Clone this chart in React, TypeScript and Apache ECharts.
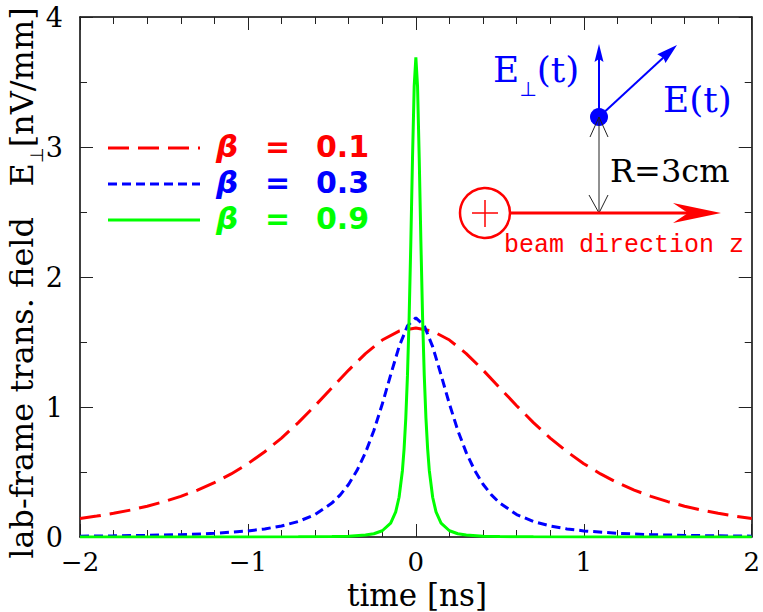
import React, { useEffect, useRef } from 'react';
import * as echarts from 'echarts';

// beta = 0.1 (red, long dashes)
const redT = [-2, -1.9, -1.8, -1.7, -1.6, -1.5, -1.4, -1.3, -1.2, -1.1, -1, -0.9, -0.8, -0.7, -0.6, -0.5, -0.4, -0.3, -0.2, -0.1, 0,
  0.1, 0.2, 0.3, 0.4, 0.5, 0.6, 0.7, 0.8, 0.9, 1, 1.1, 1.2, 1.3, 1.4, 1.5, 1.6, 1.7, 1.8, 1.9, 2];
const redV = [0.142, 0.161, 0.182, 0.207, 0.237, 0.272, 0.313, 0.361, 0.418, 0.485, 0.564, 0.656, 0.761, 0.88, 1.01, 1.147, 1.284, 1.411, 1.515, 1.584, 1.608,
  1.584, 1.515, 1.411, 1.284, 1.147, 1.01, 0.88, 0.761, 0.656, 0.564, 0.485, 0.418, 0.361, 0.313, 0.272, 0.237, 0.207, 0.182, 0.161, 0.142];

// beta = 0.3 (blue, short dashes)
const blueT = [-2, -1.8, -1.6, -1.4, -1.2, -1, -0.9, -0.8, -0.7, -0.6, -0.5, -0.45, -0.4, -0.35, -0.3, -0.25, -0.2, -0.15, -0.1, -0.05, 0,
  0.05, 0.1, 0.15, 0.2, 0.25, 0.3, 0.35, 0.4, 0.45, 0.5, 0.6, 0.7, 0.8, 0.9, 1, 1.2, 1.4, 1.6, 1.8, 2];
const blueV = [0.0065, 0.0089, 0.0125, 0.018, 0.028, 0.047, 0.062, 0.085, 0.119, 0.173, 0.261, 0.324, 0.406, 0.513, 0.649, 0.819, 1.023, 1.247, 1.464, 1.625, 1.686,
  1.625, 1.464, 1.247, 1.023, 0.819, 0.649, 0.513, 0.406, 0.324, 0.261, 0.173, 0.119, 0.085, 0.062, 0.047, 0.028, 0.018, 0.0125, 0.0089, 0.0065];

// beta = 0.9 (green, solid)
const greenT = [-2, -1.5, -1, -0.7, -0.5, -0.4, -0.3, -0.25, -0.2, -0.15, -0.12, -0.1, -0.08, -0.07, -0.06, -0.05, -0.04, -0.03, -0.02, -0.01, 0,
  0.01, 0.02, 0.03, 0.04, 0.05, 0.06, 0.07, 0.08, 0.1, 0.12, 0.15, 0.2, 0.25, 0.3, 0.4, 0.5, 0.7, 1, 1.5, 2];
const greenV = [0, 0.0001, 0.0004, 0.001, 0.003, 0.006, 0.015, 0.025, 0.048, 0.107, 0.193, 0.306, 0.512, 0.68, 0.914, 1.243, 1.691, 2.267, 2.914, 3.466, 3.69,
  3.466, 2.914, 2.267, 1.691, 1.243, 0.914, 0.68, 0.512, 0.306, 0.193, 0.107, 0.048, 0.025, 0.015, 0.006, 0.003, 0.001, 0.0004, 0.0001, 0];

const betaLabels = ['0.1', '0.3', '0.9'];
const seriesColors = ['#ff0000', '#0000ff', '#00ff00'];
const seriesDashes: (number[] | 'solid')[] = [[21, 9], [9, 5], 'solid'];

export default function App() {
  const ref = useRef<HTMLDivElement>(null);
  useEffect(() => {
    const chart = echarts.init(ref.current!, null, { renderer: 'svg' });
    const zip = (t: number[], v: number[]) => t.map((x, i) => [x, v[i]]);
    const serif = 'DejaVu Serif';
    const tickStyle = { color: '#222', width: 1 };
    const lineStyle = { color: '#000', width: 1.5 };
    const mkX = (pos: 'bottom' | 'top', labels: boolean) => ({
      type: 'value', min: -2, max: 2, interval: 1, position: pos,
      axisLine: { show: true, onZero: false, lineStyle },
      axisTick: { show: true, inside: true, length: 13, lineStyle: tickStyle },
      minorTick: { show: true, splitNumber: 5, length: 7, lineStyle: tickStyle },
      splitLine: { show: false }, minorSplitLine: { show: false },
      axisLabel: {
        show: labels, fontFamily: serif, fontSize: 26, lineHeight: 24, color: '#000', margin: 13,
        formatter: (v: number) => String(v).replace('-', '\u2212'),
      },
    });
    const mkY = (pos: 'left' | 'right', labels: boolean) => ({
      type: 'value', min: 0, max: 4, interval: 1, position: pos,
      axisLine: { show: true, onZero: false, lineStyle },
      axisTick: { show: true, inside: true, length: 13, lineStyle: tickStyle },
      minorTick: { show: true, splitNumber: 2, length: 7, lineStyle: tickStyle },
      splitLine: { show: false }, minorSplitLine: { show: false },
      axisLabel: { show: labels, fontFamily: serif, fontSize: 27, color: '#000', margin: 17 },
    });

    const legendYs = [148, 184, 220];
    const legendGraphics: any[] = [];
    betaLabels.forEach((lab, i) => {
      const y = legendYs[i];
      legendGraphics.push({
        type: 'line', shape: { x1: 108, y1: y, x2: 200, y2: y },
        style: { stroke: seriesColors[i], lineWidth: 3, lineDash: seriesDashes[i] === 'solid' ? null : seriesDashes[i] },
      });
      legendGraphics.push({
        type: 'text', x: 216, y: y - 2,
        style: { text: '\u03b2', fill: seriesColors[i], fontFamily: 'DejaVu Sans', fontWeight: 'bold', fontStyle: 'italic', fontSize: 31, verticalAlign: 'middle' },
      });
      legendGraphics.push({
        type: 'text', x: 265, y: y - 2,
        style: { text: '=', fill: seriesColors[i], fontFamily: 'DejaVu Sans', fontWeight: 'bold', fontSize: 30, verticalAlign: 'middle' },
      });
      legendGraphics.push({
        type: 'text', x: 316, y: y - 2,
        style: { text: lab, fill: seriesColors[i], fontFamily: 'DejaVu Sans', fontWeight: 'bold', fontSize: 30, verticalAlign: 'middle' },
      });
    });

    const blue = '#0000ff';
    const red = '#ff0000';
    const annot: any[] = [
      // E_perp arrow (vertical)
      { type: 'line', shape: { x1: 599, y1: 117, x2: 599, y2: 56 }, style: { stroke: blue, lineWidth: 2 } },
      { type: 'polygon', shape: { points: [[599, 44], [594.5, 62], [599, 59], [603.5, 62]] }, style: { fill: blue } },
      // E arrow (diagonal)
      { type: 'line', shape: { x1: 599, y1: 117, x2: 664, y2: 57 }, style: { stroke: blue, lineWidth: 2 } },
      { type: 'polygon', shape: { points: [[677, 45], [665.5, 63.1], [663.5, 58], [657.3, 54.3]] }, style: { fill: blue } },
      { type: 'circle', shape: { cx: 599, cy: 117, r: 9 }, style: { fill: blue } },
      // R double arrow
      { type: 'line', shape: { x1: 599, y1: 117, x2: 599, y2: 213 }, style: { stroke: '#222', lineWidth: 1 } },
      { type: 'polyline', shape: { points: [[590, 137], [599, 117], [608, 137]] }, style: { stroke: '#222', lineWidth: 1, fill: null } },
      { type: 'polyline', shape: { points: [[589, 195], [599, 213], [608, 195]] }, style: { stroke: '#222', lineWidth: 1, fill: null } },
      // beam
      { type: 'circle', shape: { cx: 485, cy: 213, r: 25 }, style: { stroke: red, lineWidth: 2.5, fill: null } },
      { type: 'line', shape: { x1: 472, y1: 213, x2: 498, y2: 213 }, style: { stroke: red, lineWidth: 1.5 } },
      { type: 'line', shape: { x1: 485, y1: 200, x2: 485, y2: 227 }, style: { stroke: red, lineWidth: 1.5 } },
      { type: 'line', shape: { x1: 510, y1: 213, x2: 690, y2: 213 }, style: { stroke: red, lineWidth: 3 } },
      { type: 'polygon', shape: { points: [[721, 213], [673, 203], [688, 213], [673, 223]] }, style: { fill: red } },
      // texts
      {
        type: 'text', x: 493, y: 47,
        style: {
          text: 'E{sub|\u22a5}(t)', fill: blue, fontFamily: serif, fontSize: 36, lineHeight: 44, verticalAlign: 'top',
          rich: { sub: { fontFamily: 'DejaVu Sans', fontSize: 20, lineHeight: 44, verticalAlign: 'top', padding: [32, 0, 0, 0], fill: blue, color: blue } },
        },
      },
      { type: 'text', x: 663, y: 99, style: { text: 'E(t)', fill: blue, fontFamily: serif, fontSize: 36, verticalAlign: 'middle' } },
      { type: 'text', x: 610, y: 171, style: { text: 'R=3cm', fill: '#000', fontFamily: serif, fontSize: 32, verticalAlign: 'middle' } },
      { type: 'text', x: 504, y: 245, style: { text: 'beam direction z', fill: red, fontFamily: 'Liberation Mono', fontSize: 25, verticalAlign: 'middle' } },
      // axis titles
      { type: 'text', x: 417, y: 595, style: { text: 'time [ns]', fill: '#000', fontFamily: serif, fontSize: 31, lineHeight: 28, align: 'center', verticalAlign: 'middle' } },
      {
        type: 'text', x: 22, y: 283, rotation: Math.PI / 2,
        style: {
          text: 'lab-frame trans. field   E{sub|\u22a5}[nV/mm]', fill: '#000', fontFamily: serif, fontSize: 32, lineHeight: 40,
          align: 'center', verticalAlign: 'middle',
          rich: { sub: { fontFamily: 'DejaVu Sans', fontSize: 18, lineHeight: 40, verticalAlign: 'top', padding: [25, 0, 0, 0], fill: '#000', color: '#000' } },
        },
      },
    ];

    chart.setOption({
      animation: false,
      backgroundColor: '#fff',
      grid: { left: 80, right: 4, top: 17, bottom: 75, containLabel: false },
      xAxis: [mkX('bottom', true), mkX('top', false)],
      yAxis: [mkY('left', true), mkY('right', false)],
      series: [
        { name: '\u03b2 = 0.1', type: 'line', data: zip(redT, redV), showSymbol: false, symbol: 'none', lineStyle: { color: seriesColors[0], width: 3, type: seriesDashes[0] } },
        { name: '\u03b2 = 0.3', type: 'line', data: zip(blueT, blueV), showSymbol: false, symbol: 'none', lineStyle: { color: seriesColors[1], width: 3, type: seriesDashes[1] } },
        { name: '\u03b2 = 0.9', type: 'line', data: zip(greenT, greenV), showSymbol: false, symbol: 'none', lineStyle: { color: seriesColors[2], width: 3, type: 'solid' } },
      ],
      graphic: [...legendGraphics, ...annot],
    });
    return () => chart.dispose();
  }, []);
  return <div ref={ref} style={{ position: 'fixed', left: 0, top: 0, width: 763, height: 612 }} />;
}
